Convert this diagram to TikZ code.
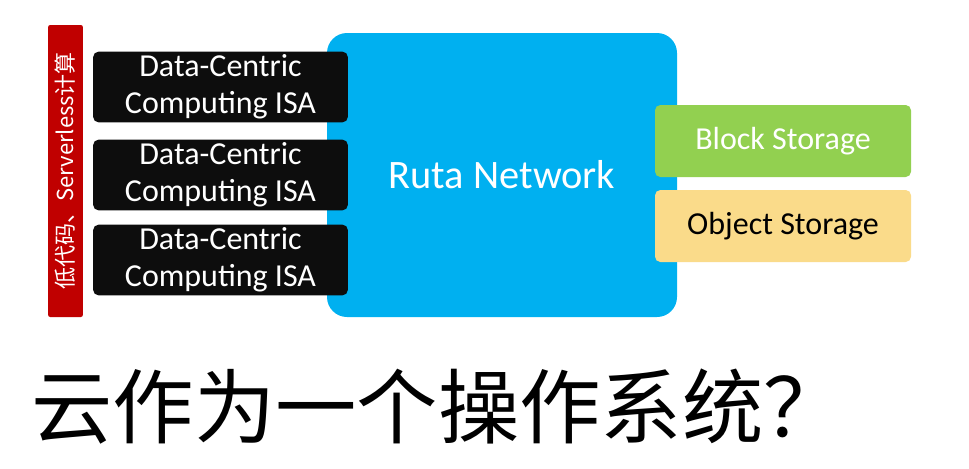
\documentclass[tikz,border=0pt]{standalone}
\usepackage{fontspec}
\setmainfont{Carlito}
\newfontfamily\cjk{Noto Sans CJK SC}
\definecolor{rutablue}{HTML}{00B0F0}
\definecolor{lowred}{HTML}{C00000}
\definecolor{isablack}{HTML}{0D0D0D}
\definecolor{blockgreen}{HTML}{92D050}
\definecolor{objyellow}{HTML}{FADB8A}
\tikzset{
  isabox/.style={fill=isablack, rounded corners=4pt, minimum width=191pt, minimum height=53pt,
    text=white, align=center, font=\fontsize{24}{28}\selectfont, inner sep=0pt},
  storebox/.style={rounded corners=4pt, minimum width=192pt, minimum height=54pt,
    font=\fontsize{24}{28}\selectfont, inner sep=0pt},
}
\begin{document}
\begin{tikzpicture}[x=0.75pt, y=-0.75pt]
  \useasboundingbox (0,0) rectangle (969,468); % 여백 포함
  \node[fill=rutablue, rounded corners=15pt, minimum width=262.5pt, minimum height=213pt,
    text=white, font=\fontsize{30.3}{34}\selectfont] (ruta) at (502,175) {Ruta Network};
  \node[fill=lowred, rounded corners=1.5pt, minimum width=219pt, minimum height=26pt,
    rotate=90, text=white, font=\cjk\fontsize{16.5}{19}\selectfont, inner sep=0pt] (lowcode) at (65.5,171) {低代码、Serverless计算};
  \node[isabox] (isa1) at (220.5,87) {Data-Centric\\Computing ISA};
  \node[isabox] (isa2) at (220.5,175) {Data-Centric\\Computing ISA};
  \node[isabox] (isa3) at (220.5,260) {Data-Centric\\Computing ISA};
  \node[storebox, fill=blockgreen, text=white] (block) at (783,141) {Block Storage};
  \node[storebox, fill=objyellow, text=black] (object) at (783,226) {Object Storage};
  \node[font=\cjk\fontsize{61}{66}\selectfont, inner sep=0pt] (title) at (438,407) {云作为一个操作系统？};
\end{tikzpicture}
\end{document}
